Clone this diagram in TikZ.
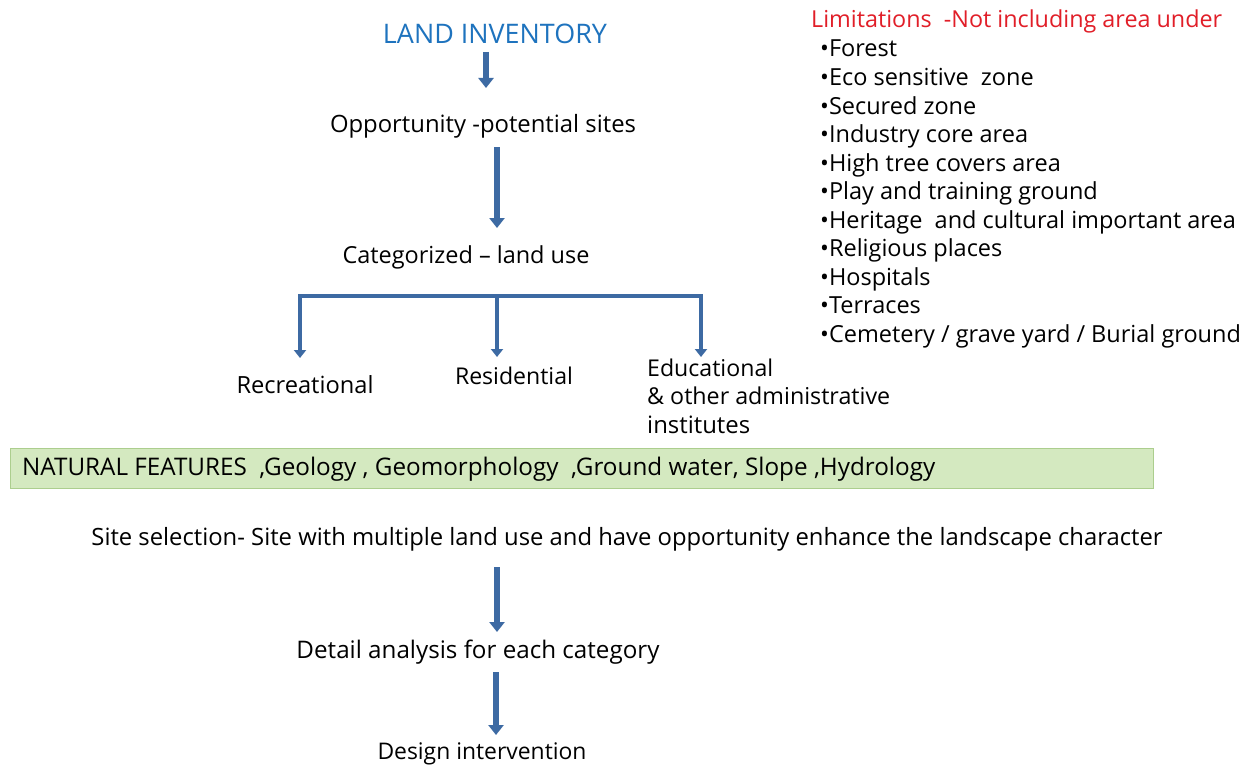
\documentclass[tikz,border=0pt]{standalone}
\usepackage{fontspec}
\setmainfont{Open Sans}
\usetikzlibrary{arrows.meta,calc}
\definecolor{titleblue}{RGB}{30,115,190}
\definecolor{arrowblue}{RGB}{61,106,163}
\definecolor{limred}{RGB}{225,30,40}
\definecolor{natfill}{RGB}{212,233,192}
\definecolor{natdraw}{RGB}{172,206,142}
\newcommand{\fitw}[2]{\resizebox{#1pt}{!}{#2}}
\begin{document}
\begin{tikzpicture}[x=1pt,y=-1pt,
  txt/.style={inner sep=0pt, anchor=base, font=\fontsize{21}{26}\selectfont},
  listitem/.style={inner sep=0pt, anchor=base west, font=\fontsize{23.5}{28}\selectfont},
  bigarrow/.style={draw=arrowblue, line width=6pt, -{Triangle[width=15pt,length=10pt]}},
  brancharrow/.style={draw=arrowblue, line width=4pt, -{Triangle[width=12pt,length=8pt]}},
  branchline/.style={draw=arrowblue, line width=4pt},
  natbox/.style={draw=natdraw, fill=natfill, line width=1pt, minimum width=1143pt, minimum height=40pt, inner sep=0pt, anchor=north west}]
\useasboundingbox (0,0) rectangle (1255,765);
\fill[white] (0,0) rectangle (1255,765);

\coordinate (ax1) at (486,0);
\coordinate (ax2) at (497,0);
\coordinate (ax4) at (496,0);

% main flow
\node[txt, text=titleblue] (land) at (495,44) {\fitw{224}{LAND INVENTORY}};
\node[txt] (opp) at (483,133) {\fitw{306}{Opportunity -potential sites}};
\node[txt] (cat) at (466,263) {\fitw{247}{Categorized – land use}};
\node[txt] (rec) at (305,393) {\fitw{137}{Recreational}};
\node[txt] (res) at (514,384) {\fitw{118}{Residential}};
\node[txt, anchor=base west] (edu1) at (647,376) {\fitw{126}{Educational}};
\node[txt, anchor=base west] (edu2) at (647,404) {\fitw{243}{\& other administrative}};
\node[txt, anchor=base west] (edu3) at (647,433) {\fitw{103}{institutes}};

\node[natbox] (nat) at (10,448) {};
\node[txt, anchor=base west] (natt) at (22,475) {\fitw{913}{NATURAL FEATURES \ ,Geology , Geomorphology \ ,Ground water, Slope ,Hydrology}};

\node[txt] (site) at (627,545) {\fitw{1071}{Site selection- Site with multiple land use and have opportunity enhance the landscape character}};
\node[txt] (detail) at (478,658) {\fitw{363}{Detail analysis for each category}};
\node[txt] (design) at (482,759) {\fitw{209}{Design intervention}};

% limitations list
\node[txt, anchor=base west, text=limred] (lim) at (811,28) {\fitw{411}{Limitations \ -Not including area under}};
\foreach \t [count=\i] in {Forest, Eco sensitive \ zone, Secured zone, Industry core area, High tree covers area, Play and training ground, Heritage \ and cultural important area, Religious places, Hospitals, Terraces, Cemetery / grave yard / Burial ground}
  \node[listitem] (l\i) at (820,{28.5+28.5*\i}) {\textbullet\t};

% connectors
\draw[bigarrow] ($(land.base -| ax1)+(0,8)$) -- ($(opp.base -| ax1)+(0,-45)$);
\draw[bigarrow] ($(opp.base -| ax2)+(0,14)$) -- ($(cat.base -| ax2)+(0,-35)$);
\coordinate (bj) at ($(cat.base -| ax2)+(0,33)$);
\draw[branchline] ($(bj)+(-199,0)$) -- ($(bj)+(206,0)$);
\draw[brancharrow] ($(bj)+(-197,-2)$) -- ($(rec.base)+(-5,-35)$);
\draw[brancharrow] ($(bj)+(0,-2)$) -- ($(res.base)+(-17,-27)$);
\draw[brancharrow] ($(bj)+(204,-2)$) -- ($(edu1.base west)+(54,-19)$);
\draw[bigarrow] ($(site.base -| ax2)+(0,22)$) -- ($(detail.base -| ax2)+(0,-26)$);
\draw[bigarrow] ($(detail.base -| ax4)+(0,14)$) -- ($(design.base -| ax4)+(0,-24)$);
\end{tikzpicture}
\end{document}
